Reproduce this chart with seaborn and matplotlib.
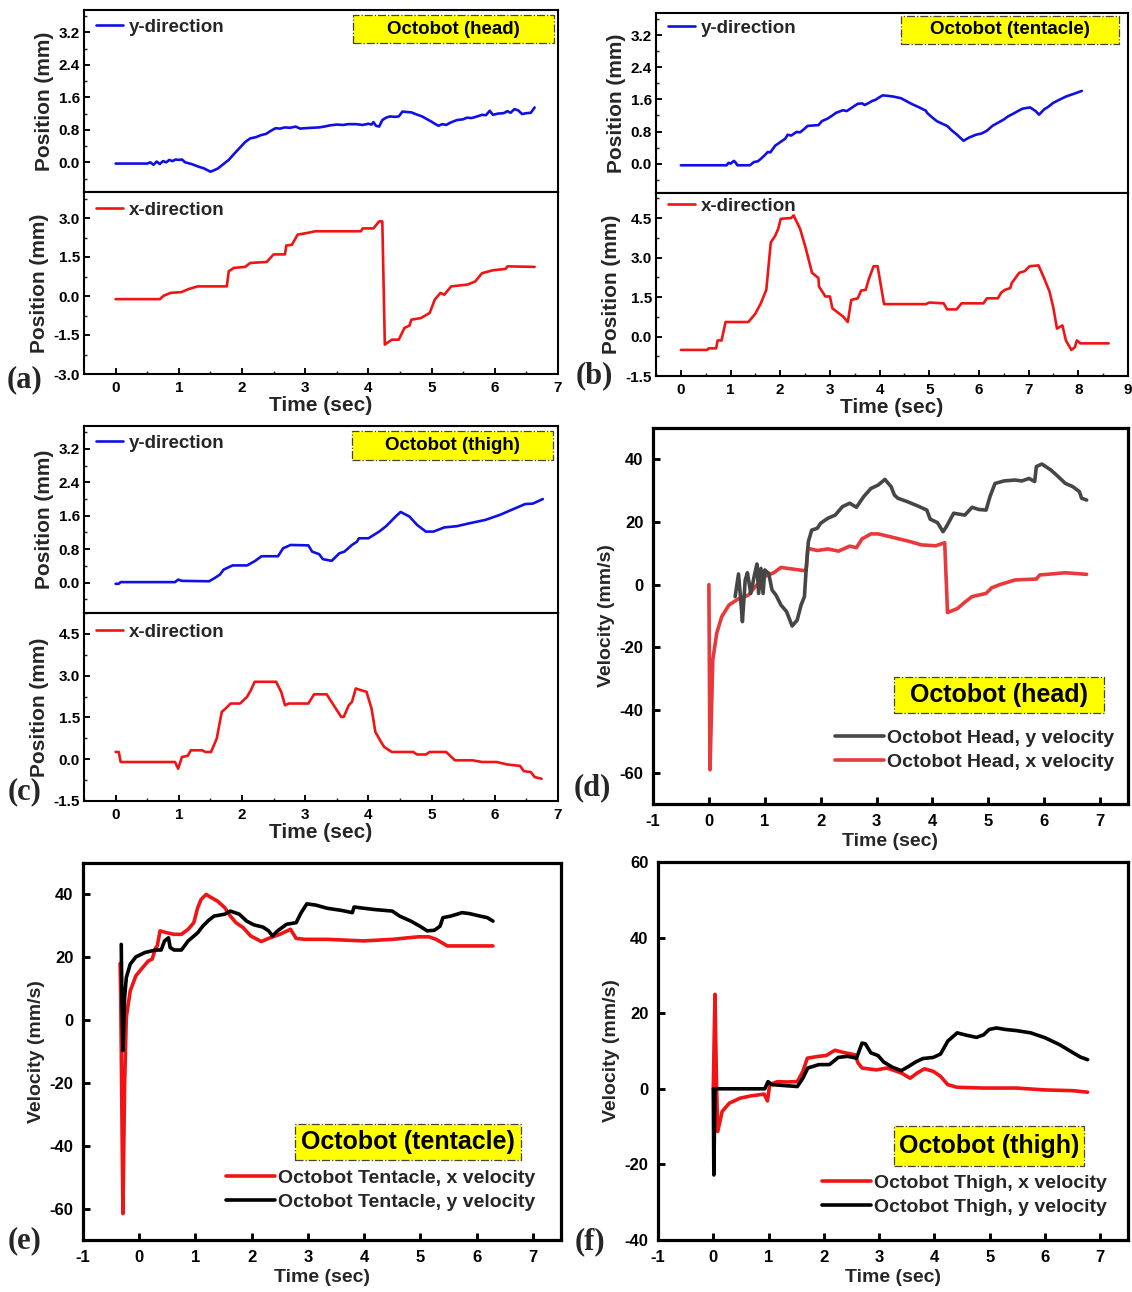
import pandas as pd
import matplotlib
matplotlib.use("Agg")
import matplotlib.pyplot as plt
from matplotlib.patches import Rectangle
from matplotlib.ticker import MultipleLocator, FormatStrFormatter
import seaborn as sns

# ---------------- data: (time in s, value) ----------------
# (a) Octobot head, position
head_y_pos = [(0, -0.03), (0.5, -0.03), (0.55, 0.0), (0.6, -0.06), (0.65, 0.02), (0.7, -0.04), (0.75, 0.03),
              (0.8, 0.0), (0.85, 0.06), (0.9, 0.03), (0.95, 0.07), (1.0, 0.06), (1.05, 0.07), (1.1, 0.0),
              (1.2, -0.04), (1.3, -0.1), (1.4, -0.15), (1.5, -0.23), (1.55, -0.2), (1.62, -0.15), (1.7, -0.05),
              (1.79, 0.06), (1.87, 0.2), (1.96, 0.35), (2.05, 0.5), (2.13, 0.59), (2.22, 0.62), (2.3, 0.67),
              (2.38, 0.7), (2.45, 0.77), (2.53, 0.84), (2.6, 0.83), (2.68, 0.86), (2.76, 0.85), (2.85, 0.88),
              (2.92, 0.83), (2.99, 0.84), (3.1, 0.85), (3.22, 0.86), (3.3, 0.88), (3.39, 0.91), (3.5, 0.93),
              (3.6, 0.92), (3.68, 0.94), (3.8, 0.94), (3.91, 0.92), (4.0, 0.95), (4.05, 0.93), (4.08, 0.99),
              (4.12, 0.9), (4.17, 0.88), (4.22, 1.04), (4.28, 1.1), (4.34, 1.13), (4.42, 1.12), (4.48, 1.13),
              (4.54, 1.25), (4.6, 1.24), (4.68, 1.23), (4.76, 1.18), (4.85, 1.13), (4.93, 1.06), (5.0, 1.0),
              (5.05, 0.95), (5.11, 0.9), (5.17, 0.94), (5.23, 0.92), (5.3, 0.98), (5.4, 1.04), (5.5, 1.06),
              (5.56, 1.1), (5.63, 1.09), (5.7, 1.12), (5.8, 1.17), (5.86, 1.16), (5.92, 1.27), (5.97, 1.17),
              (6.05, 1.2), (6.14, 1.21), (6.2, 1.26), (6.25, 1.22), (6.31, 1.31), (6.37, 1.28), (6.43, 1.19),
              (6.5, 1.21), (6.57, 1.22), (6.63, 1.35)]
head_x_pos = [(0, -0.12), (0.7, -0.12), (0.76, 0.01), (0.87, 0.12), (1.04, 0.15), (1.16, 0.27), (1.3, 0.37),
              (1.76, 0.37), (1.79, 0.95), (1.87, 1.08), (2.05, 1.12), (2.13, 1.27), (2.39, 1.31), (2.5, 1.6),
              (2.68, 1.6), (2.7, 1.94), (2.79, 1.97), (2.88, 2.36), (3.02, 2.42), (3.16, 2.49), (3.88, 2.49),
              (3.91, 2.6), (4.08, 2.6), (4.17, 2.87), (4.22, 2.87), (4.26, -1.87), (4.37, -1.68), (4.48, -1.68),
              (4.57, -1.23), (4.65, -1.14), (4.68, -0.91), (4.83, -0.85), (4.97, -0.65), (5.05, -0.14),
              (5.14, 0.12), (5.2, 0.05), (5.31, 0.37), (5.57, 0.44), (5.69, 0.56), (5.8, 0.88), (5.97, 0.99),
              (6.17, 1.04), (6.2, 1.14), (6.63, 1.12)]

# (b) Octobot tentacle, position
tentacle_y_pos = [(0, -0.04), (0.92, -0.04), (0.96, 0.02), (1.0, 0.0), (1.07, 0.07), (1.1, 0.03), (1.14, -0.04),
                  (1.39, -0.04), (1.47, 0.04), (1.55, 0.06), (1.61, 0.12), (1.68, 0.2), (1.75, 0.29), (1.8, 0.28),
                  (1.9, 0.45), (1.96, 0.5), (2.04, 0.57), (2.1, 0.62), (2.15, 0.72), (2.22, 0.7), (2.33, 0.79),
                  (2.4, 0.78), (2.48, 0.86), (2.55, 0.94), (2.66, 0.95), (2.77, 0.96), (2.84, 1.06), (2.95, 1.12),
                  (3.05, 1.2), (3.13, 1.27), (3.2, 1.3), (3.26, 1.33), (3.34, 1.31), (3.45, 1.4), (3.56, 1.49),
                  (3.65, 1.5), (3.7, 1.46), (3.78, 1.51), (3.85, 1.56), (3.92, 1.59), (3.98, 1.64), (4.06, 1.7),
                  (4.15, 1.69), (4.28, 1.67), (4.35, 1.65), (4.43, 1.63), (4.55, 1.55), (4.64, 1.49), (4.8, 1.4),
                  (4.93, 1.32), (4.96, 1.26), (5.05, 1.16), (5.15, 1.06), (5.25, 1.0), (5.36, 0.94), (5.45, 0.83),
                  (5.55, 0.73), (5.62, 0.65), (5.69, 0.57), (5.8, 0.65), (5.94, 0.72), (6.05, 0.75), (6.16, 0.82),
                  (6.27, 0.94), (6.4, 1.03), (6.5, 1.1), (6.59, 1.18), (6.7, 1.25), (6.8, 1.32), (6.88, 1.37),
                  (7.03, 1.4), (7.14, 1.31), (7.21, 1.22), (7.31, 1.35), (7.4, 1.42), (7.49, 1.51), (7.6, 1.58),
                  (7.75, 1.67), (7.89, 1.73), (8.07, 1.81)]
tentacle_x_pos = [(0, -0.51), (0.53, -0.51), (0.56, -0.45), (0.71, -0.45), (0.74, -0.15), (0.82, -0.15), (0.9, 0.55),
                  (1.36, 0.55), (1.5, 0.87), (1.61, 1.26), (1.72, 1.77), (1.81, 3.57), (1.9, 3.83), (1.96, 4.09),
                  (2.01, 4.47), (2.22, 4.5), (2.27, 4.6), (2.4, 4.09), (2.51, 3.38), (2.64, 2.42), (2.77, 2.22),
                  (2.78, 1.9), (2.91, 1.52), (3.0, 1.52), (3.05, 1.07), (3.27, 0.75), (3.36, 0.55), (3.43, 1.39),
                  (3.56, 1.45), (3.63, 1.75), (3.72, 1.77), (3.78, 2.16), (3.88, 2.67), (3.96, 2.67), (4.09, 1.23),
                  (4.21, 1.23), (4.93, 1.23), (5.0, 1.29), (5.29, 1.26), (5.36, 1.03), (5.55, 1.03), (5.65, 1.26),
                  (6.09, 1.26), (6.16, 1.45), (6.38, 1.45), (6.45, 1.67), (6.52, 1.77), (6.63, 1.84), (6.66, 2.03),
                  (6.81, 2.42), (6.92, 2.48), (7.02, 2.67), (7.2, 2.7), (7.31, 2.22), (7.42, 1.71), (7.5, 1.07),
                  (7.57, 0.3), (7.68, 0.42), (7.75, -0.15), (7.86, -0.51), (7.93, -0.41), (7.97, -0.15),
                  (8.04, -0.26), (8.61, -0.26)]

# (c) Octobot thigh, position
thigh_y_pos = [(0, -0.03), (0.05, -0.03), (0.08, 0.01), (0.94, 0.01), (0.99, 0.07), (1.05, 0.04), (1.48, 0.03),
               (1.57, 0.11), (1.65, 0.19), (1.71, 0.31), (1.85, 0.41), (2.08, 0.41), (2.2, 0.51), (2.31, 0.63),
               (2.57, 0.63), (2.65, 0.82), (2.77, 0.9), (3.05, 0.89), (3.11, 0.74), (3.22, 0.68), (3.28, 0.56),
               (3.42, 0.52), (3.54, 0.7), (3.62, 0.74), (3.74, 0.9), (3.82, 0.98), (3.85, 1.06), (4.0, 1.06),
               (4.17, 1.22), (4.28, 1.35), (4.43, 1.58), (4.51, 1.69), (4.65, 1.58), (4.77, 1.38), (4.91, 1.22),
               (5.03, 1.22), (5.2, 1.32), (5.4, 1.35), (5.6, 1.42), (5.85, 1.5), (6.08, 1.62), (6.31, 1.77),
               (6.48, 1.88), (6.6, 1.89), (6.76, 2.0)]
thigh_x_pos = [(0, 0.26), (0.05, 0.26), (0.08, -0.1), (0.94, -0.1), (0.99, -0.34), (1.05, 0.08), (1.14, 0.12),
               (1.19, 0.32), (1.37, 0.32), (1.42, 0.26), (1.51, 0.26), (1.6, 0.74), (1.68, 1.7), (1.74, 1.82),
               (1.82, 2.0), (1.97, 2.0), (2.08, 2.24), (2.14, 2.48), (2.2, 2.78), (2.54, 2.78), (2.62, 2.42),
               (2.68, 1.94), (2.74, 2.0), (3.05, 2.0), (3.14, 2.33), (3.34, 2.33), (3.45, 1.94), (3.57, 1.52),
               (3.61, 1.52), (3.69, 1.94), (3.74, 2.06), (3.8, 2.54), (3.88, 2.48), (3.97, 2.42), (4.05, 1.82),
               (4.11, 0.98), (4.2, 0.62), (4.25, 0.44), (4.37, 0.26), (4.71, 0.26), (4.77, 0.17), (4.91, 0.17),
               (4.97, 0.26), (5.23, 0.26), (5.37, -0.04), (5.65, -0.04), (5.8, -0.1), (6.03, -0.1), (6.2, -0.19),
               (6.4, -0.24), (6.46, -0.43), (6.57, -0.46), (6.63, -0.64), (6.74, -0.7)]

# (d) Octobot head, velocity
head_x_vel = [(0, 0), (0.02, -59.1), (0.07, -24), (0.14, -15.5), (0.23, -10.2), (0.36, -6.5), (0.52, -4.6),
              (0.71, -3.3), (0.78, -1.7), (0.91, 1.0), (1.0, 2.6), (1.16, 3.8), (1.29, 5.5), (1.49, 5.0),
              (1.74, 4.4), (1.77, 11.6), (1.94, 10.9), (2.13, 11.4), (2.32, 10.7), (2.52, 12.3), (2.64, 11.8),
              (2.74, 14.6), (2.9, 16.2), (3.03, 16.2), (3.29, 15.1), (3.61, 13.7), (3.8, 12.7), (4.06, 12.4),
              (4.22, 13.4), (4.27, -8.9), (4.45, -7.6), (4.58, -5.6), (4.71, -3.8), (4.96, -2.8), (5.06, -1.0),
              (5.22, 0.1), (5.48, 1.5), (5.86, 1.8), (5.92, 3.1), (6.25, 3.6), (6.38, 3.8), (6.76, 3.3)]
head_y_vel = [(0.47, -3.8), (0.53, 3.4), (0.57, -4.9), (0.6, -11.8), (0.65, 1.5), (0.69, 3.8), (0.75, -2.8),
              (0.81, 2.6), (0.86, 6.6), (0.89, -2.8), (0.93, 5.2), (0.97, -2.8), (1.0, 4.7), (1.07, 3.6),
              (1.13, -1.7), (1.2, -3.3), (1.29, -6.5), (1.39, -8.6), (1.49, -13.2), (1.58, -11.3), (1.65, -6.5),
              (1.71, -3.8), (1.74, 4.7), (1.78, 13.7), (1.84, 17.4), (1.94, 18.0), (2.0, 19.6), (2.13, 21.2),
              (2.26, 22.2), (2.39, 24.9), (2.52, 26.0), (2.64, 24.7), (2.77, 28.1), (2.9, 30.7), (3.03, 31.8),
              (3.15, 33.6), (3.26, 31.3), (3.32, 28.6), (3.38, 27.6), (3.55, 26.5), (3.74, 25.1), (3.9, 23.8),
              (3.96, 20.9), (4.09, 19.8), (4.19, 16.9), (4.25, 18.5), (4.38, 22.8), (4.58, 22.2), (4.71, 24.7),
              (4.83, 24.0), (4.96, 23.8), (5.03, 28.1), (5.12, 32.3), (5.28, 33.1), (5.48, 33.4), (5.6, 33.1),
              (5.73, 33.9), (5.83, 32.9), (5.86, 37.7), (5.96, 38.5), (6.12, 36.6), (6.25, 34.5), (6.38, 32.3),
              (6.51, 31.3), (6.63, 29.7), (6.67, 27.6), (6.76, 27.0)]

# (e) Octobot tentacle, velocity
tentacle_x_vel = [(-0.34, 18.0), (-0.33, 9.0), (-0.29, -61.6), (-0.26, -20.3), (-0.23, 0.8), (-0.16, 9.3),
                  (-0.06, 14.1), (0.06, 16.7), (0.16, 18.8), (0.23, 19.4), (0.29, 22.9), (0.32, 23.6), (0.37, 28.4),
                  (0.49, 27.8), (0.62, 27.3), (0.75, 27.3), (0.87, 28.9), (0.97, 31.0), (1.04, 35.8), (1.1, 38.4),
                  (1.19, 40.0), (1.26, 39.2), (1.39, 37.9), (1.52, 35.8), (1.62, 33.1), (1.72, 31.0), (1.85, 29.4),
                  (1.98, 26.8), (2.17, 25.0), (2.3, 26.0), (2.5, 27.3), (2.69, 28.9), (2.79, 26.0), (2.95, 25.7),
                  (3.34, 25.7), (3.99, 25.2), (4.5, 25.7), (4.96, 26.5), (5.15, 26.5), (5.28, 25.7), (5.48, 23.6),
                  (5.93, 23.6), (6.29, 23.6)]
tentacle_y_vel = [(-0.32, 24.1), (-0.31, 9.3), (-0.29, -9.7), (-0.26, 7.2), (-0.23, 13.5), (-0.16, 17.8),
                  (-0.06, 20.1), (0.1, 21.5), (0.29, 22.3), (0.39, 22.3), (0.45, 25.2), (0.52, 26.2), (0.55, 23.1),
                  (0.62, 22.3), (0.75, 22.3), (0.87, 25.2), (1.04, 27.8), (1.13, 29.9), (1.23, 31.7), (1.33, 33.1),
                  (1.52, 33.7), (1.62, 34.7), (1.78, 33.7), (1.91, 31.5), (2.04, 30.3), (2.2, 29.6), (2.3, 28.4),
                  (2.37, 26.8), (2.46, 28.4), (2.62, 30.5), (2.79, 31.0), (2.88, 34.2), (2.98, 37.0), (3.14, 36.6),
                  (3.34, 35.6), (3.6, 34.9), (3.79, 34.2), (3.82, 36.0), (3.99, 35.6), (4.18, 35.2), (4.37, 34.9),
                  (4.5, 34.7), (4.63, 33.1), (4.83, 31.5), (4.99, 29.9), (5.12, 28.4), (5.25, 28.6), (5.35, 29.9),
                  (5.4, 32.6), (5.54, 33.1), (5.74, 34.2), (5.87, 33.9), (6.06, 33.1), (6.19, 32.6), (6.29, 31.5)]

# (f) Octobot thigh, velocity
thigh_x_vel = [(0, 0), (0.03, 25.0), (0.06, 0), (0.08, -11.3), (0.16, -6.0), (0.29, -3.8), (0.48, -2.5),
               (0.67, -1.9), (0.92, -1.4), (0.98, -3.2), (1.02, 1.1), (1.16, 1.9), (1.32, 1.8), (1.52, 1.9),
               (1.62, 4.6), (1.7, 8.1), (1.91, 8.6), (2.04, 8.8), (2.2, 10.2), (2.36, 9.6), (2.56, 9.0),
               (2.62, 6.8), (2.69, 5.5), (2.95, 5.0), (3.14, 5.5), (3.4, 4.2), (3.56, 2.8), (3.69, 4.2),
               (3.82, 5.3), (3.98, 4.6), (4.11, 3.3), (4.24, 1.1), (4.41, 0.4), (4.89, 0.2), (5.48, 0.2),
               (6.0, -0.3), (6.51, -0.5), (6.77, -0.9)]
thigh_y_vel = [(0, 0), (0.01, -22.8), (0.03, 0), (0.93, 0), (0.99, 1.9), (1.06, 1.1), (1.52, 0.6), (1.62, 2.8),
               (1.71, 5.5), (1.91, 6.4), (2.1, 6.4), (2.26, 8.3), (2.43, 8.6), (2.59, 8.1), (2.69, 12.1),
               (2.75, 11.9), (2.85, 9.5), (2.98, 8.8), (3.08, 7.1), (3.24, 5.7), (3.4, 4.8), (3.53, 5.9),
               (3.66, 7.1), (3.79, 8.0), (3.98, 8.3), (4.11, 9.2), (4.24, 12.6), (4.41, 14.8), (4.57, 14.2),
               (4.76, 13.6), (4.89, 14.3), (4.99, 15.7), (5.12, 16.1), (5.28, 15.7), (5.48, 15.4), (5.74, 14.8),
               (6.0, 13.5), (6.26, 11.7), (6.51, 9.5), (6.64, 8.4), (6.77, 7.7)]

# ---------------- style ----------------
sns.set_theme(style="ticks")
plt.rcParams["font.family"] = ["Liberation Sans", "DejaVu Sans"]
plt.rcParams["font.weight"] = "bold"
plt.rcParams["axes.labelweight"] = "bold"
plt.rcParams["axes.unicode_minus"] = False
plt.rcParams["xtick.direction"] = "in"
plt.rcParams["ytick.direction"] = "in"
plt.rcParams["axes.edgecolor"] = "black"

BLUE = "#1010e6"
RED = "#f01414"
GRAY = "#464646"
SALMON = "#e8393c"
YELLOW = "#ffff00"

W, H = 1132, 1292
fig = plt.figure(figsize=(W / 100, H / 100), dpi=100)


def axes_px(left, top, right, bottom):
    return fig.add_axes([left / W, 1 - bottom / H, (right - left) / W, (bottom - top) / H])


def draw(ax, pts, color, label, lw):
    df = pd.DataFrame(pts, columns=["t", "v"])
    sns.lineplot(data=df, x="t", y="v", ax=ax, color=color, lw=lw,
                 estimator=None, sort=False, label=label)


def tag_box(x0, y0, x1, y1, text, size):
    fig.add_artist(Rectangle((x0 / W, 1 - y1 / H), (x1 - x0) / W, (y1 - y0) / H,
                             transform=fig.transFigure, facecolor=YELLOW,
                             edgecolor="#444444", lw=0.9, ls="-.", zorder=5))
    fig.text((x0 + x1) / 2 / W, 1 - (y0 + y1) / 2 / H, text, ha="center", va="center",
             fontsize=size, weight="bold", color="black", zorder=6)


def panel_letter(x, y, text):
    fig.text(x / W, 1 - y / H, text, ha="center", va="center", fontsize=22,
             weight="bold", family=["Liberation Serif", "DejaVu Serif"])


def style_axes(ax, spine_lw, tick_size, pad):
    for s in ax.spines.values():
        s.set_visible(True)
        s.set_linewidth(spine_lw)
        s.set_color("black")
    ax.tick_params(which="major", length=4, width=spine_lw * 0.9, labelsize=tick_size,
                   pad=pad, colors="black", top=False, right=False)
    ax.tick_params(which="minor", length=2.2, width=spine_lw * 0.7, top=False, right=False)


def position_panel(l, t, r, m, b, top_pts, bot_pts, xmax, bot_ylim, legend_rows):
    ax1 = axes_px(l, t, r, m)
    ax2 = axes_px(l, m, r, b)
    draw(ax1, top_pts, BLUE, "y-direction", 1.9)
    draw(ax2, bot_pts, RED, "x-direction", 1.9)
    for ax in (ax1, ax2):
        style_axes(ax, 1.5, 11, 3)
        ax.set_xlim(-0.5, xmax)
        ax.xaxis.set_major_locator(MultipleLocator(1))
        ax.xaxis.set_minor_locator(MultipleLocator(0.5))
        ax.yaxis.set_major_formatter(FormatStrFormatter("%.1f"))
        ax.set_ylabel("Position (mm)", fontsize=15, labelpad=3)
    ax1.set_ylim(-0.73, 3.75)
    ax1.yaxis.set_major_locator(MultipleLocator(0.8))
    ax1.yaxis.set_minor_locator(MultipleLocator(0.4))
    ax1.tick_params(axis="x", which="both", bottom=False, labelbottom=False)
    ax1.set_xlabel("")
    ax2.set_ylim(*bot_ylim)
    ax2.yaxis.set_major_locator(MultipleLocator(1.5))
    ax2.yaxis.set_minor_locator(MultipleLocator(0.75))
    ax2.tick_params(axis="x", which="major", pad=5)
    ax2.set_xlabel("Time (sec)", fontsize=15, labelpad=1)
    for ax, row_y, top in ((ax1, legend_rows[0], t), (ax2, legend_rows[1], m)):
        hgt = (m - t) if ax is ax1 else (b - m)
        ax.legend(loc="center left", frameon=False, borderpad=0, borderaxespad=0,
                  bbox_to_anchor=(12 / (r - l), 1 - (row_y - top) / hgt),
                  handlelength=1.45, handletextpad=0.3,
                  prop={"size": 13.5, "weight": "bold"})
    return ax1, ax2


def velocity_panel(l, t, r, b, first, second, ylim):
    ax = axes_px(l, t, r, b)
    for pts, color, label in (first, second):
        draw(ax, pts, color, label, 2.6)
    style_axes(ax, 2.3, 12, 7)
    ax.set_xlim(-1, 7.5)
    ax.set_ylim(*ylim)
    ax.xaxis.set_major_locator(MultipleLocator(1))
    ax.yaxis.set_major_locator(MultipleLocator(20))
    ax.tick_params(which="major", length=5)
    ax.tick_params(axis="x", which="major", pad=7)
    ax.set_xlabel("Time (sec)", fontsize=14, labelpad=3)
    ax.set_ylabel("Velocity (mm/s)", fontsize=14, labelpad=3)
    return ax


def velocity_legend(ax, handles, labels, anchor):
    ax.legend(handles, labels, loc="center left", frameon=False, borderpad=0,
              borderaxespad=0, bbox_to_anchor=anchor,
              handlelength=2.5, handletextpad=0.15, labelspacing=0.32,
              prop={"size": 14, "weight": "bold"})


# (a) head
position_panel(84, 10, 558, 192, 374, head_y_pos, head_x_pos, 7, (-3.0, 4.0), (27, 210))
# (b) tentacle
position_panel(656, 13, 1128, 193, 376, tentacle_y_pos, tentacle_x_pos, 9, (-1.5, 5.45), (28, 206))
# (c) thigh
position_panel(84, 426, 558, 613, 801, thigh_y_pos, thigh_x_pos, 7, (-1.5, 5.25), (443, 632))

# (d) head velocity: y drawn over x, legend lists y first
ax_d = velocity_panel(653, 428, 1128, 804,
                      (head_x_vel, SALMON, "Octobot Head, x velocity"),
                      (head_y_vel, GRAY, "Octobot Head, y velocity"),
                      (-70, 50))
h, lab = ax_d.get_legend_handles_labels()
velocity_legend(ax_d, [h[1], h[0]], [lab[1], lab[0]],
                ((835 - 653) / 475, 1 - (750 - 428) / 376))

# (e) tentacle velocity
ax_e = velocity_panel(83, 863, 561, 1240,
                      (tentacle_x_vel, RED, "Octobot Tentacle, x velocity"),
                      (tentacle_y_vel, "black", "Octobot Tentacle, y velocity"),
                      (-70, 50))
h, lab = ax_e.get_legend_handles_labels()
velocity_legend(ax_e, h, lab, ((226 - 83) / 478, 1 - (1190 - 863) / 377))

# (f) thigh velocity
ax_f = velocity_panel(658, 862, 1128, 1240,
                      (thigh_x_vel, RED, "Octobot Thigh, x velocity"),
                      (thigh_y_vel, "black", "Octobot Thigh, y velocity"),
                      (-40, 60))
h, lab = ax_f.get_legend_handles_labels()
velocity_legend(ax_f, h, lab, ((822 - 658) / 470, 1 - (1195 - 862) / 378))

# name tags
tag_box(353, 15, 554, 43, "Octobot (head)", 13.5)
tag_box(901, 16, 1119, 44, "Octobot (tentacle)", 13.5)
tag_box(352, 431, 553, 460, "Octobot (thigh)", 13.5)
tag_box(894, 677, 1104, 713, "Octobot (head)", 18)
tag_box(295, 1124, 521, 1160, "Octobot (tentacle)", 18)
tag_box(894, 1126, 1084, 1166, "Octobot (thigh)", 18)

# panel letters
panel_letter(25, 380, "(a)")
panel_letter(594, 376, "(b)")
panel_letter(25, 792, "(c)")
panel_letter(592, 788, "(d)")
panel_letter(25, 1241, "(e)")
panel_letter(590, 1242, "(f)")

fig.savefig("out.png", dpi=100)
